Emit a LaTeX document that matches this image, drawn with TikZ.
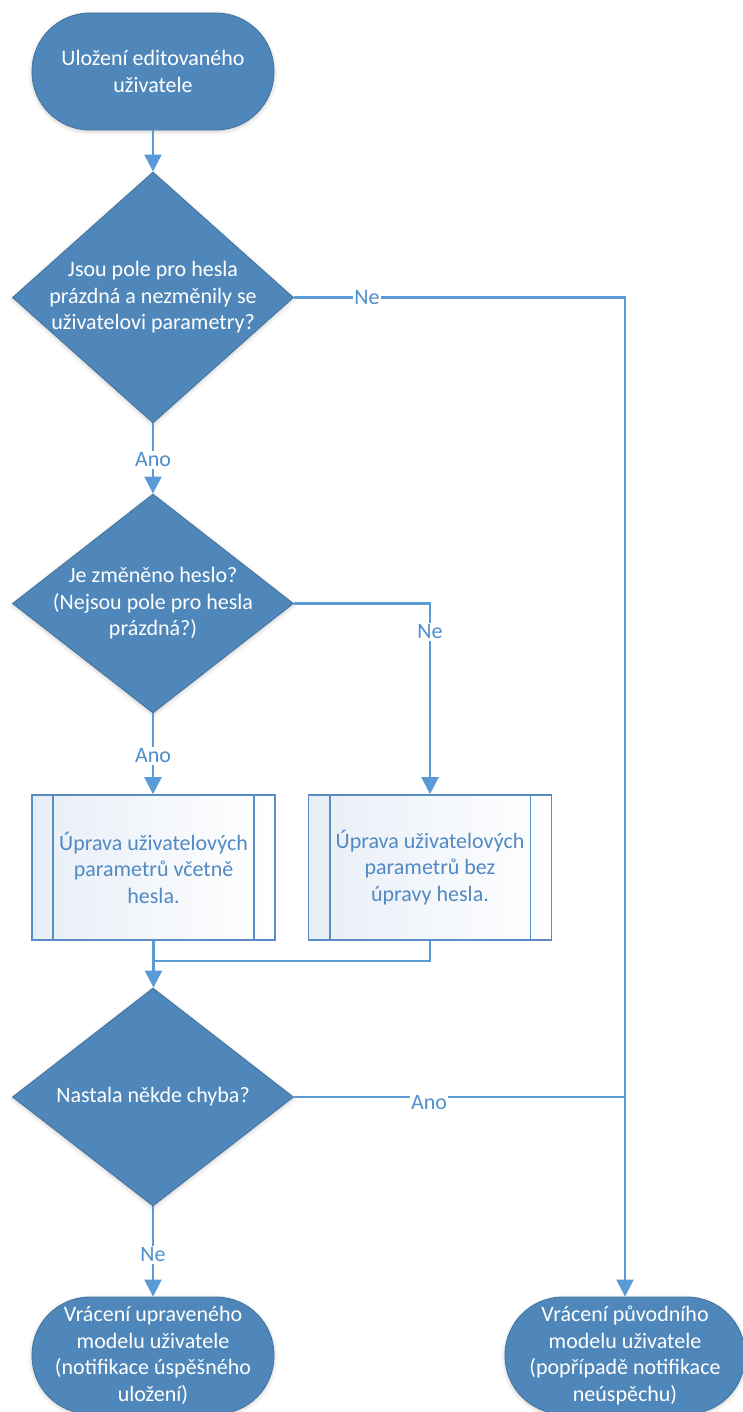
\documentclass[tikz,border=0pt]{standalone}
\usepackage{fontspec}
\setmainfont{Carlito}
\usetikzlibrary{shapes.geometric,arrows.meta,shadows.blur}
\definecolor{nodefill}{HTML}{4F87BA}
\definecolor{nodeedge}{HTML}{41719C}
\definecolor{flow}{HTML}{5B9BD5}
\definecolor{subedge}{HTML}{5A8DC6}
\definecolor{subfill}{HTML}{E8EEF7}
\definecolor{subtext}{HTML}{5189C3}
\definecolor{lbltext}{HTML}{4F8FCF}

\begin{document}
\begin{tikzpicture}[x=1pt,y=-1pt,
  txt/.style={font=\fontsize{22}{26.5}\selectfont, align=center},
  soft/.style={blur shadow={shadow xshift=0pt, shadow yshift=-1.5pt, shadow blur radius=4pt, shadow opacity=22}},
  terminal/.style={rectangle, rounded corners=58pt, minimum width=242pt, minimum height=117pt,
    fill=nodefill, draw=nodeedge, line width=0.8pt, text=white, txt, inner sep=0pt, soft},
  decision/.style={diamond, minimum width=281pt, minimum height=#1, inner sep=0pt,
    fill=nodefill, draw=nodeedge, line width=0.8pt, soft},
  dtext/.style={txt, text=white, inner sep=0pt},
  subproc/.style={rectangle, minimum width=243pt, minimum height=145pt, inner sep=0pt,
    left color=subfill, right color=white, draw=subedge, line width=1.6pt, txt, text=subtext},
  subline/.style={draw=subedge, line width=1.6pt},
  flowline/.style={draw=flow, line width=2.2pt, -{Triangle[width=17pt,length=17pt]}},
  plainline/.style={draw=flow, line width=2.2pt},
  lbl/.style={txt, text=lbltext, fill=white, inner sep=1.5pt},
]
\useasboundingbox (0,0) rectangle (742,1412);

% shapes
\node[terminal] (t1) at (153,71.5) {Uložení editovaného\\uživatele};
\node[decision=251pt] (d1) at (153,297.5) {};
\node[dtext] (d1t) at (d1) {Jsou pole pro hesla\\prázdná a nezměnily se\\uživatelovi parametry?};
\node[decision=219pt] (d2) at (153,603.5) {};
\node[dtext] (d2t) at (d2) {Je změněno heslo?\\(Nejsou pole pro hesla\\prázdná?)};
\node[subproc] (s1) at (153.5,867.5) {Úprava uživatelových\\parametrů včetně\\hesla.};
\node[subproc] (s2) at (430,867.5) {Úprava uživatelových\\parametrů bez\\úpravy hesla.};
\node[decision=218pt] (d3) at (153,1097) {};
\node[dtext] (d3t) at (d3) {Nastala někde chyba?};
\node[terminal] (t3) at (153,1355.5) {Vrácení upraveného\\modelu uživatele\\(notifikace úspěšného\\uložení)};
\node[terminal, minimum width=240pt] (t4) at (625,1355.5) {Vrácení původního\\modelu uživatele\\(popřípadě notifikace\\neúspěchu)};

% inner bars of the predefined-process boxes
\foreach \n in {s1,s2}{
  \draw[subline] ([xshift=22pt]\n.north west) -- ([xshift=22pt]\n.south west);
  \draw[subline] ([xshift=-22pt]\n.north east) -- ([xshift=-22pt]\n.south east);
}

% connectors
\coordinate (merge) at (153.5,961);
\draw[flowline] (t1) -- (d1);
\draw[flowline] (d1) -- (d2);
\draw[flowline] (d1.east) -- (d1.east -| t4.north) -- (t4.north);
\draw[flowline] (d2.east) -| (s2.north);
\draw[flowline] (d2.south) -- (d2.south |- s1.north);
\draw[flowline] (s1.south) -- (s1.south |- d3.north);
\draw[plainline] (s2.south) |- (merge);
\draw[plainline] (d3.east) -- (d3.east -| t4.north);
\draw[flowline] (d3) -- (t3);

% branch labels
\node[lbl] (l1) at (367,297.5) {Ne};
\node[lbl] (l2) at (153,460) {Ano};
\node[lbl] (l3) at (430,632) {Ne};
\node[lbl] (l4) at (153,756) {Ano};
\node[lbl] (l5) at (429,1103) {Ano};
\node[lbl] (l6) at (153,1255) {Ne};
\end{tikzpicture}
\end{document}
